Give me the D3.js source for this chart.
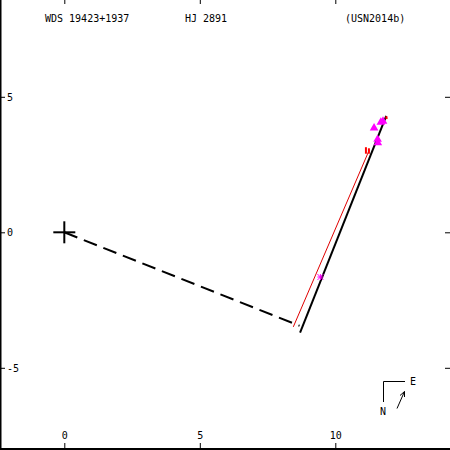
<!DOCTYPE html>
<html><head><meta charset="utf-8">
<script src="https://cdn.jsdelivr.net/npm/d3@7"></script>
<style>body{margin:0;background:#fff}svg{display:block}text{font-family:"DejaVu Sans Mono",monospace;font-size:10px;fill:#000}</style>
</head><body>
<script>
// ---- data (arcsec offsets) ----
const titles = ["WDS 19423+1937", "HJ 2891", "(USN2014b)"];
const xTicks = [0, 5, 10];
const yTicks = [5, 0, -5];
const primary = [0, 0];
const periastronLine = [[0, 0], [8.68, -3.45]];
const orbitLine = [[8.70, -3.70], [11.88, 4.30]];
const fitLine = [[8.45, -3.49], [11.25, 3.03]];
const triangleObs = [[11.43, 3.85], [11.68, 4.06], [11.76, 4.10], [11.56, 3.43], [11.57, 3.30]];
const starObs = [[9.45, -1.65]];
const residuals = [[[11.13, 3.14], [11.13, 2.90]], [[11.24, 3.10], [11.24, 2.90]], [[11.88, 4.28], [11.90, 4.18]]];

const W = 450, H = 450;
const x = d3.scaleLinear().domain([-2.373, 14.232]).range([0, W]);
const y = d3.scaleLinear().domain([8.572, -8.033]).range([0, H]);

const svg = d3.select("body").append("svg").attr("width", W).attr("height", H);

// frame
svg.append("line").attr("x1", 0.5).attr("y1", 0).attr("x2", 0.5).attr("y2", H).attr("stroke", "#000").attr("stroke-width", 2);
svg.append("line").attr("x1", 0).attr("y1", H - 1).attr("x2", W).attr("y2", H - 1).attr("stroke", "#000").attr("stroke-width", 2);

// axes
const fmt = d => String(d);
const gb = svg.append("g").attr("transform", `translate(0,${H - 1})`)
  .call(d3.axisTop(x).tickValues(xTicks).tickSize(6).tickPadding(4).tickFormat(fmt));
const gt = svg.append("g").attr("transform", "translate(0,0)")
  .call(d3.axisBottom(x).tickValues(xTicks).tickSize(4).tickFormat(""));
const gl = svg.append("g").attr("transform", "translate(0,0)")
  .call(d3.axisRight(y).tickValues(yTicks).tickSize(5).tickPadding(2).tickFormat(fmt));
const gr = svg.append("g").attr("transform", `translate(${W},0)`)
  .call(d3.axisLeft(y).tickValues(yTicks).tickSize(5).tickFormat(""));
[gb, gt, gl, gr].forEach(g => {
  g.select(".domain").remove();
  g.selectAll("line").attr("stroke", "#000").attr("stroke-width", 1);
  g.selectAll("text").attr("font-family", "DejaVu Sans Mono").attr("font-size", 10).attr("fill", "#000");
});

// titles
const titleX = [45, 185, 345];
svg.selectAll("text.title").data(titles).enter().append("text")
  .attr("class", "title").attr("x", (d, i) => titleX[i]).attr("y", 22).text(d => d);

const line = d3.line().x(d => x(d[0])).y(d => y(d[1]));

// dashed line from primary
svg.append("path").attr("d", line(periastronLine)).attr("fill", "none")
  .attr("stroke", "#000").attr("stroke-width", 2).attr("stroke-dasharray", "14,7");

// fitted red line
svg.append("path").attr("d", line(fitLine)).attr("fill", "none").attr("stroke", "#e00000").attr("stroke-width", 1);

// orbit line
svg.append("path").attr("d", line(orbitLine)).attr("fill", "none").attr("stroke", "#000").attr("stroke-width", 2);

// residuals
svg.selectAll("path.res").data(residuals).enter().append("path").attr("class", "res")
  .attr("d", d => line(d)).attr("stroke", "#ff0000").attr("stroke-width", 2).attr("fill", "none");

// triangles
const tri = d3.symbol().type(d3.symbolTriangle).size(32);
svg.selectAll("path.tri").data(triangleObs).enter().append("path").attr("class", "tri")
  .attr("d", tri).attr("transform", d => `translate(${x(d[0])},${y(d[1])})`).attr("fill", "#ff00ff");

// star marks
starObs.forEach(d => {
  const cx = x(d[0]), cy = y(d[1]), r = 3;
  const g = svg.append("g").attr("stroke", "#ff00ff").attr("stroke-width", 1);
  [[-r, 0, r, 0], [0, -r, 0, r], [-r, -r, r, r], [-r, r, r, -r]].forEach(s =>
    g.append("line").attr("x1", cx + s[0]).attr("y1", cy + s[1]).attr("x2", cx + s[2]).attr("y2", cy + s[3]));
});

// primary cross
const px = x(primary[0]), py = y(primary[1]);
svg.append("line").attr("x1", px - 11).attr("y1", py).attr("x2", px + 11).attr("y2", py).attr("stroke", "#000").attr("stroke-width", 2);
svg.append("line").attr("x1", px).attr("y1", py - 11).attr("x2", px).attr("y2", py + 11).attr("stroke", "#000").attr("stroke-width", 2);

// compass
const c = svg.append("g").attr("stroke", "#000").attr("stroke-width", 1).attr("fill", "none");
c.append("path").attr("d", "M405,381.5 H383.5 V402");
c.append("path").attr("d", "M397,408.5 L404.5,391.5 M404.5,391.5 L400,395.5 M404.5,391.5 L404.5,397");
svg.append("text").attr("x", 410).attr("y", 385).text("E");
svg.append("text").attr("x", 380).attr("y", 415).text("N");
</script>
</body></html>
